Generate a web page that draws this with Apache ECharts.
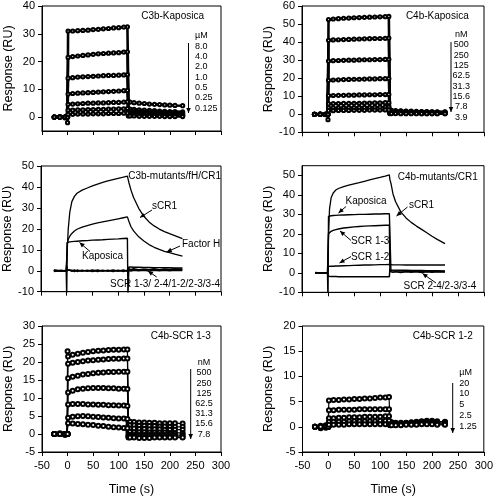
<!DOCTYPE html>
<html><head><meta charset="utf-8">
<script src="https://cdn.jsdelivr.net/npm/echarts@6/dist/echarts.min.js"></script>
<style>html,body{margin:0;padding:0;background:#fff}#c{width:496px;height:497px}</style>
</head><body><div id="c"></div>
<script>
// ---------- time grids (s) ----------
const tKin = [-26,-15,-5,-1,0,1,10,20,30,40,50,60,70,80,90,100,110,117,119,122,130,140,150,160,170,180,190,200,210,225];
const tCurve = [-25,-10,-1,0,1,3,6,10,15,20,30,40,50,60,70,80,90,100,110,118,119,121,125,130,140,150,160,170,180,190,200,210,225];

// ---------- Panel 1: C3b-Kaposica (RU) ----------
const p1_8_0   = [0,0.2,-0.2,0,-2, 31,31,31.1,31.2,31.3,31.5,31.6,31.8,31.9,32.1,32.2,32.4,32.5, 5.6,5.4,5.2,5,4.9,4.7,4.6,4.5,4.4,4.3,4.2,4.1];
const p1_4_0   = [0,0,-0.2,0,0, 21.5,21.8,22,22.2,22.4,22.6,22.8,22.9,23,23.1,23.2,23.4,23.5, 3,2.9,2.8,2.6,2.5,2.4,2.3,2.2,2.1,2,2,1.9];
const p1_2_0   = [0,0.1,0,0,0, 14,14.2,14.4,14.5,14.6,14.7,14.8,14.9,15,15,15.1,15.2,15.3, 2.2,2.1,2,1.9,1.8,1.7,1.7,1.6,1.6,1.5,1.5,1.4];
const p1_1_0   = [0,0,0,0,0, 8.3,8.5,8.6,8.7,8.8,8.9,9,9.1,9.2,9.3,9.4,9.5,9.6, 1.6,1.5,1.5,1.4,1.3,1.3,1.2,1.2,1.1,1.1,1,1];
const p1_0_5   = [0,0,0,0,0, 4.6,4.7,4.8,4.9,5,5,5.1,5.1,5.2,5.3,5.3,5.4,5.5, 1.2,1.1,1.1,1,1,0.9,0.9,0.9,0.8,0.8,0.8,0.7];
const p1_0_25  = [0,0,0,0,0, 2.5,2.5,2.6,2.6,2.7,2.7,2.8,2.8,2.9,2.9,3,3,3.1, 0.8,0.8,0.7,0.7,0.7,0.6,0.6,0.6,0.6,0.5,0.5,0.5];
const p1_0_125 = [0,0,0,0,0, 1,1,1.1,1.1,1.1,1.2,1.2,1.2,1.3,1.3,1.3,1.4,1.4, 0.4,0.4,0.4,0.3,0.3,0.3,0.3,0.3,0.2,0.2,0.2,0.2];
const p1_labels = ['µM','8.0','4.0','2.0','1.0','0.5','0.25','0.125'];

// ---------- Panel 2: C4b-Kaposica ----------
const p2_500  = [0,0.2,-0.2,0,-3, 52.5,52.8,53,53.2,53.3,53.5,53.6,53.7,53.8,53.9,54,54.1,54.2, 2.5,2.2,2,1.9,1.8,1.7,1.6,1.5,1.5,1.4,1.4,1.3];
const p2_250  = [0,0,0,0,0, 41,41.2,41.3,41.4,41.5,41.6,41.7,41.8,41.9,42,42,42.1,42.2, 2,1.9,1.8,1.7,1.6,1.5,1.4,1.4,1.3,1.3,1.2,1.2];
const p2_125  = [0,0,0,0,0, 29.5,29.7,29.8,29.9,30,30,30.1,30.2,30.2,30.3,30.3,30.4,30.5, 1.6,1.5,1.4,1.3,1.3,1.2,1.2,1.1,1.1,1,1,1];
const p2_62_5 = [0,0,0,0,0, 18.8,19,19.1,19.2,19.3,19.4,19.4,19.5,19.6,19.6,19.7,19.7,19.8, 1.3,1.2,1.2,1.1,1.1,1,1,1,0.9,0.9,0.9,0.9];
const p2_31_3 = [0,0,0,0,0, 10.3,10.4,10.5,10.5,10.6,10.6,10.7,10.7,10.8,10.8,10.9,10.9,11, 1,1,0.9,0.9,0.9,0.8,0.8,0.8,0.8,0.7,0.7,0.7];
const p2_15_6 = [0,0,0,0,0, 5.8,5.9,5.9,6,6,6.1,6.1,6.2,6.2,6.3,6.3,6.4,6.4, 0.8,0.8,0.7,0.7,0.7,0.7,0.6,0.6,0.6,0.6,0.6,0.5];
const p2_7_8  = [0,0,0,0,0, 3.5,3.5,3.6,3.6,3.7,3.7,3.8,3.8,3.8,3.9,3.9,4,4, 0.6,0.6,0.5,0.5,0.5,0.5,0.5,0.4,0.4,0.4,0.4,0.4];
const p2_3_9  = [0,0,0,0,0, 2,2,2.1,2.1,2.1,2.2,2.2,2.2,2.3,2.3,2.3,2.4,2.4, 0.4,0.4,0.4,0.3,0.3,0.3,0.3,0.3,0.3,0.3,0.3,0.3];
const p2_labels = ['nM','500','250','125','62.5','31.3','15.6','7.8','3.9'];

// ---------- Panel 3: C3b-mutants/fH/CR1 ----------
const p3_sCR1 = [0,0,0,0, 10,20,28,33,35.5,37,38.5,39.5,40.5,41.4,42.2,42.9,43.5,44.1,44.7,45.2, 44.5,42,38.5,35,29.8,26,23.3,21.4,19.9,18.7,17.7,16.8,15.3];
const p3_fH   = [0,0,0,0, 13,15,16.5,17.8,19,19.8,20.8,21.5,22.2,22.8,23.3,23.8,24.3,24.8,25.3,25.7, 25,23.5,21,19,16.2,14.2,12.5,11.2,10.2,9.3,8.6,7.9,7];
const p3_kap  = [0.3,0,0,-12, 13.5,13.7,13.8,13.9,14,14.1,14.3,14.4,14.6,14.7,14.8,15,15.1,15.2,15.4,15.5, -12,1.8,1.8,1.7,1.7,1.6,1.6,1.5,1.5,1.4,1.4,1.3,1.3];
const p3_mutA = [0.3,-0.2,0.2,2.5, 0.4,-0.3,0.3,-0.2,0.4,-0.3,0.2,-0.2,0.3,-0.3,0.2,-0.2,0.3,-0.2,0.3,-0.2, 0.5,0.8,0.6,0.9,0.5,0.8,0.6,0.9,0.5,0.8,0.6,0.9,0.7];
const p3_mutB = [-0.3,0.2,-0.2,-1, -0.4,0.3,-0.3,0.2,-0.4,0.3,-0.2,0.2,-0.3,0.3,-0.2,0.2,-0.3,0.2,-0.3,0.2, 0,0.3,-0.1,0.3,0,0.3,-0.1,0.3,0,0.3,0,0.3,0.2];

// ---------- Panel 4: C4b-mutants/CR1 ----------
const p4_sCR1  = [0,0,0,0, 20,33,38.5,41,42.5,43.3,44.3,45,45.7,46.3,47,47.7,48.4,49,49.7,50.3, 48,46,40.5,36.5,31.3,28.2,25.9,24,22.3,20.6,18.8,17.2,15];
const p4_kap   = [0,0,0,-15, 29,29.2,29.3,29.4,29.5,29.6,29.7,29.8,29.9,30,30,30.1,30.2,30.2,30.3,30.3, 31,1.5,1.4,1.4,1.3,1.3,1.2,1.2,1.2,1.1,1.1,1.1,1];
const p4_scr13 = [0,0,0,0, 20,20.8,21.3,21.8,22.2,22.5,23,23.3,23.6,23.8,24,24.1,24.2,24.3,24.4,24.4, 1.2,1,1,0.9,0.9,0.8,0.8,0.8,0.7,0.7,0.7,0.7,0.7];
const p4_scr12 = [0,0,0,0, 3.3,3.3,3.4,3.4,3.5,3.5,3.6,3.7,3.8,3.9,4,4,4.1,4.2,4.2,4.3, 4.2,4.1,4.1,4.1,4.1,4,4,4,4,4,4,4,4];
const p4_scr24 = [0.2,-0.2,0,0, -1.8,-1.8,-1.9,-1.9,-1.9,-2,-2,-2,-2,-2,-2,-2,-2,-2,-2,-2, 2,0.5,0.3,0.6,0.2,0.5,0.3,0.6,0.2,0.5,0.3,0.6,0.4];

// ---------- Panel 5: C4b-SCR 1-3 ----------
const p5_500  = [0,0.2,-0.3,0.1,23, 21.5,22,22.3,22.6,22.8,23,23.1,23.2,23.3,23.4,23.4,23.5,23.5, 3.5,3.4,3.3,3.2,3.2,3.1,3.1,3,3,3,3,2.9];
const p5_250  = [0,0,0,0,0, 19.5,19.8,20,20.2,20.4,20.5,20.6,20.7,20.8,20.9,20.9,21,21, 2.5,2.4,2.4,2.3,2.3,2.2,2.2,2.1,2.1,2,2,2];
const p5_125  = [0,0,0,0,0, 15.5,15.9,16.2,16.5,16.7,16.9,17,17.1,17.2,17.2,17.3,17.3,17.3, 1.6,1.5,1.5,1.4,1.4,1.3,1.3,1.3,1.2,1.2,1.2,1.2];
const p5_62_5 = [0,0,0,0,0, 11.5,12,12.4,12.6,12.7,12.8,12.8,12.8,12.7,12.7,12.6,12.6,12.5, 0.6,0.6,0.5,0.5,0.5,0.4,0.4,0.4,0.4,0.3,0.3,0.3];
const p5_31_3 = [0,0,0,0,0, 8.2,8.3,8.3,8.3,8.2,8.2,8.1,8.1,8,8,7.9,7.9,7.8, -0.2,-0.2,-0.3,-0.3,-0.3,-0.3,-0.3,-0.3,-0.3,-0.3,-0.3,-0.3];
const p5_15_6 = [0,0,0,0,0, 4.5,4.8,4.9,5,4.9,4.8,4.7,4.6,4.5,4.4,4.3,4.3,4.2, -0.6,-0.7,-0.7,-0.8,-0.8,-0.8,-0.8,-0.8,-0.8,-0.8,-0.8,-0.8];
const p5_7_8  = [0,0,0,0,0, 3,2.9,2.8,2.7,2.6,2.5,2.3,2.2,2,1.9,1.8,1.7,1.6, -1,-1,-1,-1.1,-1.1,-1.1,-1,-1,-1,-1,-1,-1];
const p5_outT = [0,0,0];
const p5_outY = [-2,-2.7,-3.4];
const p5_labels = ['nM','500','250','125','62.5','31.3','15.6','7.8'];

// ---------- Panel 6: C4b-SCR 1-2 ----------
const p6_20   = [0,-0.3,0.3,0,0, 5.2,5.3,5.3,5.4,5.4,5.5,5.5,5.6,5.6,5.7,5.8,5.8,5.9, 1,0.9,0.8,0.8,0.8,0.9,1,1.1,1.2,1.2,1.1,1];
const p6_10   = [0,0.2,-0.2,0,0, 3.3,3.3,3.4,3.4,3.4,3.4,3.5,3.5,3.5,3.5,3.5,3.5,3.5, 0.7,0.6,0.6,0.6,0.7,0.8,0.9,1,1,1,0.9,0.9];
const p6_5    = [0,-0.2,0.2,0,0, 1.7,1.7,1.8,1.8,1.9,1.9,1.9,2,2,2,2,2.1,2.1, 0.5,0.5,0.5,0.5,0.6,0.6,0.7,0.8,0.8,0.8,0.7,0.7];
const p6_2_5  = [0,0,0,0,0, 1,1,1,1,1.1,1.1,1.1,1.1,1.1,1.1,1.2,1.2,1.2, 0.4,0.4,0.4,0.4,0.5,0.5,0.6,0.6,0.6,0.6,0.6,0.5];
const p6_1_25 = [0,0,0,0,0, 0.4,0.4,0.4,0.4,0.5,0.5,0.5,0.5,0.5,0.5,0.5,0.5,0.5, 0.3,0.3,0.3,0.3,0.4,0.4,0.4,0.5,0.5,0.5,0.4,0.4];
const p6_outT = [0,120,120];
const p6_outY = [-2,-3.3,-3.8];
const p6_labels = ['µM','20','10','5','2.5','1.25'];

const titles = ['C3b-Kaposica','C4b-Kaposica','C3b-mutants/fH/CR1','C4b-mutants/CR1','C4b-SCR 1-3','C4b-SCR 1-2'];
const xTicks = [-50,0,50,100,150,200,250,300];

// ---------- build ----------
const FONT = 'Liberation Sans, Arial, sans-serif';
const grids = [
  {left:42, top:6, width:179, height:125},
  {left:302, top:6, width:182, height:126.3},
  {left:41, top:166, width:180, height:125.7},
  {left:302, top:165.7, width:182, height:126.6},
  {left:42, top:326, width:179, height:126.3},
  {left:302.5, top:326, width:181.5, height:126.3}
].map(g => Object.assign({show:true, borderColor:'#000', borderWidth:1, containLabel:false}, g));

const yCfg = [
  {min:-5, max:40, vals:[0,10,20,30,40]},
  {min:-10, max:60, vals:[-10,0,10,20,30,40,50,60]},
  {min:-10, max:50, vals:[-10,0,10,20,30,40,50]},
  {min:-10, max:55, vals:[-10,0,10,20,30,40,50]},
  {min:-5, max:30, vals:[-5,0,5,10,15,20,25,30]},
  {min:-5, max:20, vals:[-5,0,5,10,15,20]}
];

const xAxis = grids.map((g,i) => ({
  type:'value', gridIndex:i, min:-50, max:300, interval:50,
  axisLine:{show:true, onZero:false, lineStyle:{color:'#000', width:1}},
  axisTick:{show:true, inside:false, length:4, lineStyle:{color:'#000'}},
  axisLabel:{show:i>=4, fontFamily:FONT, fontSize:11, color:'#000', margin:8, customValues:xTicks},
  splitLine:{show:false},
  name: i>=4 ? 'Time (s)' : '', nameLocation:'middle', nameGap:31,
  nameTextStyle:{fontFamily:FONT, fontSize:12.5, color:'#000'}
}));

const yAxis = yCfg.map((c,i) => ({
  type:'value', gridIndex:i, min:c.min, max:c.max,
  axisLine:{show:true, onZero:false, lineStyle:{color:'#000', width:1}},
  axisTick:{show:true, inside:false, length:4, customValues:c.vals, lineStyle:{color:'#000'}},
  axisLabel:{fontFamily:FONT, fontSize:11, color:'#000', margin:7, customValues:c.vals,
    formatter: v => (c.vals.indexOf(v) >= 0 ? String(v) : '')},
  splitLine:{show:false},
  name:'Response (RU)', nameLocation:'middle', nameGap: 27,
  nameTextStyle:{fontFamily:FONT, fontSize:12.5, color:'#000'}
}));

function pairs(ts, vs){ return ts.map((t,k)=>[t, vs[k]]); }
function beaded(gi, vs, lw, sz){
  return {type:'line', xAxisIndex:gi, yAxisIndex:gi, data:pairs(tKin, vs), animation:false, silent:true,
    lineStyle:{color:'#000', width:lw}, symbol:'emptyCircle', symbolSize:sz, showSymbol:true,
    itemStyle:{color:'#000', borderColor:'#000', borderWidth:1}, clip:true};
}
function smooth(gi, vs, lw){
  return {type:'line', xAxisIndex:gi, yAxisIndex:gi, data:pairs(tCurve, vs), animation:false, silent:true,
    lineStyle:{color:'#000', width:lw}, showSymbol:false, symbol:'none', clip:true};
}
function outliers(gi, ts, vs){
  return {type:'scatter', xAxisIndex:gi, yAxisIndex:gi, data:pairs(ts, vs), animation:false, silent:true,
    symbol:'emptyCircle', symbolSize:3, itemStyle:{color:'#fff', borderColor:'#000', borderWidth:0.8}};
}

const series = [];
[p1_8_0,p1_4_0,p1_2_0,p1_1_0,p1_0_5,p1_0_25,p1_0_125].forEach(v=>series.push(beaded(0,v,2.6,3.2)));
[p2_500,p2_250,p2_125,p2_62_5,p2_31_3,p2_15_6,p2_7_8,p2_3_9].forEach(v=>series.push(beaded(1,v,2.6,3.2)));
series.push(smooth(2,p3_mutA,1.6), smooth(2,p3_mutB,1.6), smooth(2,p3_kap,1.4), smooth(2,p3_fH,1.3), smooth(2,p3_sCR1,1.3));
series.push(smooth(3,p4_scr24,1.5), smooth(3,p4_scr12,1.4), smooth(3,p4_scr13,1.4), smooth(3,p4_kap,1.4), smooth(3,p4_sCR1,1.3));
[p5_500,p5_250,p5_125,p5_62_5,p5_31_3,p5_15_6,p5_7_8].forEach(v=>series.push(beaded(4,v,1.2,4)));
series.push(outliers(4,p5_outT,p5_outY));
[p6_20,p6_10,p6_5,p6_2_5,p6_1_25].forEach(v=>series.push(beaded(5,v,1.2,4)));
series.push(outliers(5,p6_outT,p6_outY));

// ---------- annotations ----------
const graphic = [];
function txt(x,y,s,align,size){
  graphic.push({type:'text', x:x, y:y, silent:true, style:{text:s, fill:'#000', font: size+'px '+FONT,
    textAlign:align||'left', textVerticalAlign:'middle'}});
}
function arrow(x1,y1,x2,y2){
  graphic.push({type:'line', silent:true, shape:{x1:x1,y1:y1,x2:x2,y2:y2}, style:{stroke:'#000', lineWidth:1}});
  const a = Math.atan2(y2-y1, x2-x1), L=5, W=2.3;
  const bx = x2 - L*Math.cos(a), by = y2 - L*Math.sin(a);
  graphic.push({type:'polygon', silent:true, shape:{points:[[x2,y2],[bx - W*Math.sin(a), by + W*Math.cos(a)],[bx + W*Math.sin(a), by - W*Math.cos(a)]]},
    style:{fill:'#000'}});
}
function column(x, y0, step, labels, align){
  labels.forEach((s,k)=>txt(x, y0 + k*step, s, align, 9));
}
// titles
const tpos = [[204,16.7],[468.7,16.7],[221,176.7],[477.7,177.3],[210.7,336],[472.7,336]];
titles.forEach((s,i)=>txt(tpos[i][0], tpos[i][1], s, 'right', 10));
// concentration columns
column(195, 36, 10.3, p1_labels, 'left');   arrow(188.5,43,188.5,113);
column(461.3, 34.7, 10.3, p2_labels, 'center'); arrow(451,42,451,112);
column(204, 362.7, 10.2, p5_labels, 'center'); arrow(190.7,369,190.7,439);
column(459.3, 372.3, 10.8, p6_labels, 'left'); arrow(452.7,383,452.7,433);
// panel 3
txt(152, 206.7, 'sCR1', 'left', 10);     arrow(152,210,140,217.5);
txt(182, 244, 'Factor H', 'left', 10);   arrow(180,246,166.7,252);
txt(82, 256.7, 'Kaposica', 'left', 10);  arrow(90,251.5,79.5,242.5);
txt(110, 284, 'SCR 1-3/ 2-4/1-2/2-3/3-4', 'left', 10); arrow(156.7,277,148,271);
// panel 4
txt(345.5, 201.7, 'Kaposica', 'left', 10); arrow(346,206.5,338.5,213);
txt(409, 205, 'sCR1', 'left', 10);         arrow(407.5,207,396.5,216);
txt(351, 241.7, 'SCR 1-3', 'left', 10);    arrow(351,240.5,340,231);
txt(351, 257.7, 'SCR 1-2', 'left', 10);    arrow(351,256.5,339.5,263);
txt(403.5, 286, 'SCR 2-4/2-3/3-4', 'left', 10); arrow(436,283,422.5,273.5);

const chart = echarts.init(document.getElementById('c'), null, {renderer:'canvas'});
chart.setOption({animation:false, backgroundColor:'#fff', grid:grids, xAxis:xAxis, yAxis:yAxis, series:series, graphic:graphic});
</script>
</body></html>
